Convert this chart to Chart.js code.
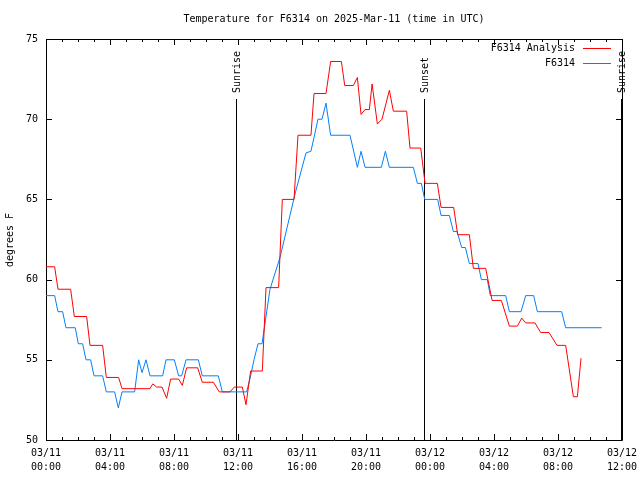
<!DOCTYPE html>
<html>
<head>
<meta charset="utf-8">
<script src="https://cdn.jsdelivr.net/npm/chart.js@4/dist/chart.umd.min.js"></script>
<style>
  body { margin: 0; background: #fff; }
  canvas { display: block; }
</style>
</head>
<body>
<canvas id="myChart" width="640" height="480"></canvas>
<script>
'use strict';

// hours since 03/11 00:00 UTC
let analysisHours = [0, 0.54, 0.75, 1.54, 1.77, 2.54, 2.75, 3.54, 3.77, 4.54, 4.75, 6.5, 6.67, 6.92, 7.25, 7.54, 7.79, 8.29, 8.52, 8.79,
  9.48, 9.77, 10.46, 10.83, 11.5, 11.77, 12.27, 12.5, 12.79, 13.52, 13.75, 14.54, 14.77, 15.5, 15.75, 16.56, 16.75, 17.5, 17.79, 18.46,
  18.67, 19.21, 19.46, 19.69, 19.94, 20.21, 20.38, 20.71, 21.0, 21.46, 21.71, 22.54, 22.75, 23.42, 23.69, 24.46, 24.69, 25.48, 25.73, 26.46,
  26.71, 27.48, 27.88, 28.46, 28.96, 29.46, 29.73, 29.98, 30.56, 30.92, 31.44, 31.94, 32.48, 32.96, 33.21, 33.44];
let analysisTemps = [60.8, 60.8, 59.4, 59.4, 57.7, 57.7, 55.9, 55.9, 53.9, 53.9, 53.2, 53.2, 53.5, 53.3, 53.3, 52.6, 53.8, 53.8, 53.4, 54.5,
  54.5, 53.6, 53.6, 53.0, 53.0, 53.3, 53.3, 52.2, 54.3, 54.3, 59.5, 59.5, 65.0, 65.0, 69.0, 69.0, 71.6, 71.6, 73.6, 73.6,
  72.1, 72.1, 72.6, 70.3, 70.6, 70.6, 72.2, 69.7, 70.0, 71.8, 70.5, 70.5, 68.2, 68.2, 66.0, 66.0, 64.5, 64.5, 62.8, 62.8,
  60.7, 60.7, 58.7, 58.7, 57.1, 57.1, 57.6, 57.3, 57.3, 56.7, 56.7, 55.9, 55.9, 52.7, 52.7, 55.1];

let obsHours = [0, 0.54, 0.75, 1.04, 1.25, 1.83, 2.02, 2.29, 2.5, 2.79, 3.0, 3.54, 3.77, 4.29, 4.52, 4.75, 5.54, 5.79, 6.0, 6.25,
  6.5, 7.29, 7.5, 8.02, 8.29, 8.48, 8.75, 9.52, 9.77, 10.77, 11.02, 12.54, 12.79, 13.0, 13.25, 13.5, 14.0, 14.63, 15.58, 16.25,
  16.56, 17.0, 17.25, 17.5, 17.79, 19.0, 19.46, 19.69, 19.94, 20.96, 21.21, 21.46, 22.96, 23.21, 23.46, 23.67, 24.48, 24.69, 25.21, 25.46,
  25.69, 25.98, 26.21, 26.46, 27.0, 27.21, 27.58, 27.77, 28.73, 28.96, 29.69, 29.98, 30.48, 30.71, 32.23, 32.48, 34.73];
let obsTemps = [59, 59, 58, 58, 57, 57, 56, 56, 55, 55, 54, 54, 53, 53, 52, 53, 53, 55, 54.2, 55,
  54, 54, 55, 55, 54, 54, 55, 55, 54, 54, 53, 53, 54, 55, 56, 56, 59.4, 61.4, 65.4, 67.9,
  68, 70, 70, 71, 69, 69, 67, 68, 67, 67, 68, 67, 67, 66, 66, 65, 65, 64, 64, 63,
  63, 62, 62, 61, 61, 60, 60, 59, 59, 58, 58, 59, 59, 58, 58, 57, 57];

let tickHours = [0, 4, 8, 12, 16, 20, 24, 28, 32, 36];
let tickDates = ['03/11', '03/11', '03/11', '03/11', '03/11', '03/11', '03/12', '03/12', '03/12', '03/12'];
let tickTimes = ['00:00', '04:00', '08:00', '12:00', '16:00', '20:00', '00:00', '04:00', '08:00', '12:00'];
let yTicks = [50, 55, 60, 65, 70, 75];

let sunNames = ['Sunrise', 'Sunset', 'Sunrise'];
let sunHours = [11.88, 23.65, 35.94];

let titleText = 'Temperature for F6314 on 2025-Mar-11 (time in UTC)';
let yLabel = 'degrees F';
let font = '10px "DejaVu Sans Mono"';

function toPoints(xs, ys){
  let pts = [];
  for(let i = 0; i < xs.length; i++){
    pts.push({x: xs[i], y: ys[i]});
  }
  return pts;
}

// gnuplot-ish frame: border, inward ticks, sun lines, title, legend
const framePlugin = {
  id: 'frame',
  beforeDatasetsDraw(chart){
    let c = chart.ctx;
    let a = chart.chartArea;
    let xs = chart.scales.x;
    let ys = chart.scales.y;
    c.save();
    c.strokeStyle = '#000';
    c.lineWidth = 1;
    c.beginPath();
    c.rect(Math.round(a.left) + 0.5, Math.round(a.top) + 0.5, Math.round(a.right - a.left), Math.round(a.bottom - a.top));
    c.stroke();

    c.beginPath();
    for(let h = 0; h <= 36; h++){
      let x = Math.round(xs.getPixelForValue(h)) + 0.5;
      let len = (h % 4 === 0) ? 6 : 3;
      c.moveTo(x, a.bottom); c.lineTo(x, a.bottom - len);
      c.moveTo(x, a.top); c.lineTo(x, a.top + len);
    }
    for(let i = 0; i < yTicks.length; i++){
      let y = Math.round(ys.getPixelForValue(yTicks[i])) + 0.5;
      c.moveTo(a.left, y); c.lineTo(a.left + 6, y);
      c.moveTo(a.right, y); c.lineTo(a.right - 6, y);
    }
    c.stroke();

    // sunrise / sunset markers
    c.font = font;
    c.fillStyle = '#000';
    for(let i = 0; i < sunHours.length; i++){
      let x = Math.round(xs.getPixelForValue(sunHours[i])) + 0.5;
      c.beginPath();
      c.moveTo(x, 99);
      c.lineTo(x, a.bottom);
      c.stroke();
      c.save();
      c.translate(x + 1, 93);
      c.rotate(-Math.PI / 2);
      c.textAlign = 'left';
      c.textBaseline = 'middle';
      c.fillText(sunNames[i], 0, 0);
      c.restore();
    }
    c.restore();
  },
  afterDraw(chart){
    let c = chart.ctx;
    c.save();
    c.font = font;
    c.fillStyle = '#000';
    c.textAlign = 'center';
    c.textBaseline = 'middle';
    c.fillText(titleText, 334, 19);

    c.save();
    c.translate(10, 240);
    c.rotate(-Math.PI / 2);
    c.fillText(yLabel, 0, 0);
    c.restore();

    // legend
    let ds = chart.data.datasets;
    c.textAlign = 'right';
    for(let i = 0; i < ds.length; i++){
      let y = 48 + i * 15;
      c.fillText(ds[i].label, 575, y);
      c.strokeStyle = ds[i].borderColor;
      c.lineWidth = 1;
      c.beginPath();
      c.moveTo(583, y + 0.5);
      c.lineTo(611, y + 0.5);
      c.stroke();
    }
    c.restore();
  }
};

const ctx = document.getElementById('myChart');

new Chart(ctx, {
  type: 'line',
  data: {
    datasets: [{
      label: 'F6314 Analysis',
      data: toPoints(analysisHours, analysisTemps),
      borderColor: 'rgb(255,0,0)',
      borderWidth: 1,
      pointRadius: 0,
      tension: 0
    },
    {
      label: 'F6314',
      data: toPoints(obsHours, obsTemps),
      borderColor: 'rgb(0,128,255)',
      borderWidth: 1,
      pointRadius: 0,
      tension: 0
    }]
  },
  options: {
    responsive: false,
    animation: false,
    layout: { padding: { top: 39, right: 18, left: 0, bottom: 0 } },
    plugins: {
      legend: { display: false },
      title: { display: false },
      tooltip: { enabled: false }
    },
    scales: {
      x: {
        type: 'linear',
        min: 0,
        max: 36,
        afterBuildTicks: (scale) => { scale.ticks = tickHours.map(v => ({ value: v })); },
        afterFit: (scale) => {
          scale.height = 40;
          scale.paddingLeft = 0;
          scale.paddingRight = 0;
        },
        grid: { display: false, drawTicks: false },
        border: { display: false },
        ticks: {
          autoSkip: false,
          maxRotation: 0,
          padding: 6,
          color: '#000',
          font: { family: 'DejaVu Sans Mono', size: 10, lineHeight: 1.4 },
          callback: (value) => {
            let idx = tickHours.indexOf(value);
            return [tickDates[idx], tickTimes[idx]];
          }
        }
      },
      y: {
        min: 50,
        max: 75,
        afterBuildTicks: (scale) => { scale.ticks = yTicks.map(v => ({ value: v })); },
        afterFit: (scale) => { scale.width = 46; },
        grid: { display: false, drawTicks: false },
        border: { display: false },
        ticks: {
          padding: 8,
          color: '#000',
          font: { family: 'DejaVu Sans Mono', size: 10 }
        }
      }
    }
  },
  plugins: [framePlugin]
});
</script>
</body>
</html>
